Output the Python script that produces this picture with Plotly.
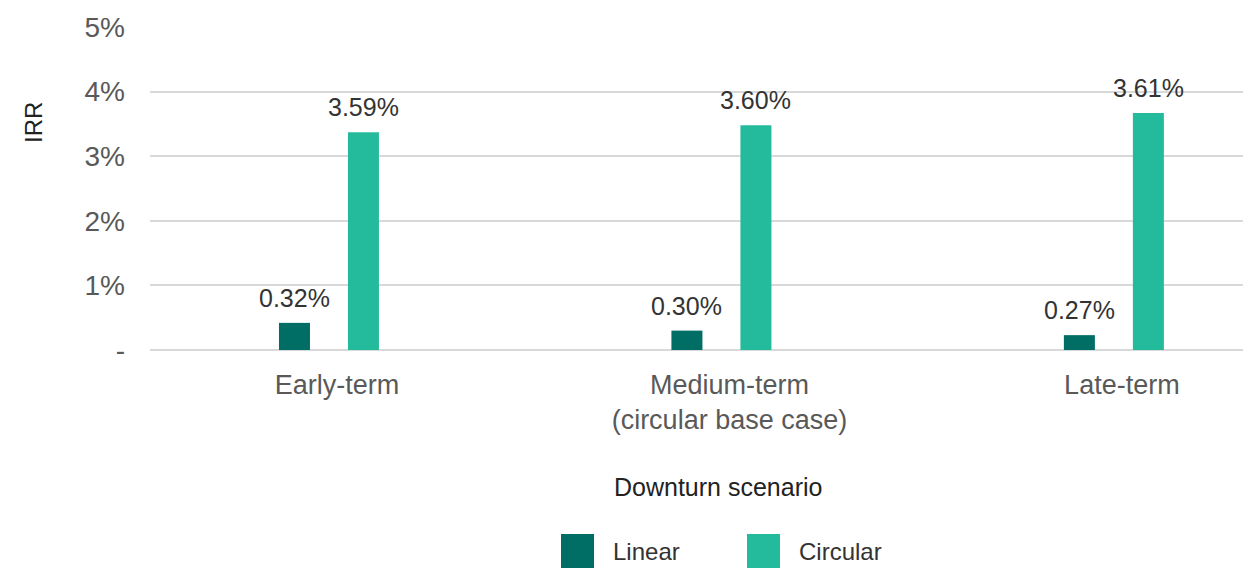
import plotly.graph_objects as go

categories = ["Early-term", "Medium-term<br>(circular base case)", "Late-term"]
linear_values = [0.42, 0.30, 0.23]
circular_values = [3.37, 3.48, 3.67]
linear_labels = ["0.32%", "0.30%", "0.27%"]
circular_labels = ["3.59%", "3.60%", "3.61%"]
tick_vals = [0, 1, 2, 3, 4, 5]
tick_text = ["-", "1%", "2%", "3%", "4%", "5%"]

LINEAR_COLOR = "#006E64"
CIRC_COLOR = "#24BB9C"
FONT = "Liberation Sans, Arial, Helvetica, sans-serif"

BAR_W = 0.079
LIN_OFF = -0.1274
CIR_OFF = 0.0484

fig = go.Figure()
fig.add_trace(go.Bar(x=categories, y=linear_values, name="Linear",
                     marker=dict(color=LINEAR_COLOR, line=dict(width=0)),
                     width=BAR_W, offset=LIN_OFF, hoverinfo="skip"))
fig.add_trace(go.Bar(x=categories, y=circular_values, name="Circular",
                     marker=dict(color=CIRC_COLOR, line=dict(width=0)),
                     width=BAR_W, offset=CIR_OFF, hoverinfo="skip"))

annotations = []
px_per_unit = 392.5
for cat, v, t in zip(categories, linear_values, linear_labels):
    annotations.append(dict(x=cat, y=v, text=t, showarrow=False, xref="x", yref="y",
                            xshift=(LIN_OFF + BAR_W / 2) * px_per_unit, yshift=25,
                            yanchor="middle", font=dict(size=25, color="#333333", family=FONT)))
for cat, v, t in zip(categories, circular_values, circular_labels):
    annotations.append(dict(x=cat, y=v, text=t, showarrow=False, xref="x", yref="y",
                            xshift=(CIR_OFF + BAR_W / 2) * px_per_unit, yshift=25,
                            yanchor="middle", font=dict(size=25, color="#333333", family=FONT)))

# axis titles (pixel positions converted below)
annotations.append(dict(x=33, y=123, xref="paper", yref="paper", text="IRR", showarrow=False,
                        textangle=-90, xanchor="center", yanchor="middle",
                        font=dict(size=24, color="#222222", family=FONT)))
annotations.append(dict(x=718, y=487, xref="paper", yref="paper", text="Downturn scenario",
                        showarrow=False, xanchor="center", yanchor="middle",
                        font=dict(size=25, color="#222222", family=FONT)))

# legend
legend_items = [("Linear", LINEAR_COLOR, 561), ("Circular", CIRC_COLOR, 747)]
shapes = []
for name, color, x0 in legend_items:
    shapes.append(dict(type="rect", xref="paper", yref="paper", x0=x0, x1=x0 + 33,
                       y0=534, y1=568, fillcolor=color, line=dict(width=0)))
    annotations.append(dict(x=x0 + 50, y=551, xref="paper", yref="paper", text=name,
                            showarrow=False, xanchor="left", yanchor="middle",
                            font=dict(size=24, color="#333333", family=FONT)))

W, H = 1243, 568
ML, MR, MT, MB = 150, 0, 27, 218
pw, ph = W - ML - MR, H - MT - MB
for a in annotations:
    if a["xref"] == "paper":
        a["x"] = (a["x"] - ML) / pw
        a["y"] = (H - MB - a["y"]) / ph
for s in shapes:
    s["x0"] = (s["x0"] - ML) / pw; s["x1"] = (s["x1"] - ML) / pw
    y0, y1 = s["y0"], s["y1"]
    s["y0"] = (H - MB - y1) / ph; s["y1"] = (H - MB - y0) / ph

fig.update_layout(
    width=W, height=H,
    margin=dict(l=ML, r=MR, t=MT, b=MB),
    barmode="overlay",
    showlegend=False,
    plot_bgcolor="white", paper_bgcolor="white",
    font=dict(family=FONT),
    annotations=annotations,
    shapes=shapes,
    xaxis=dict(range=[-0.456, 2.329], showgrid=False, zeroline=False, showline=False,
               ticks="", ticklabelstandoff=16, ticklabelshift=8,
               tickfont=dict(size=27, color="#595959", family=FONT)),
    yaxis=dict(range=[0, 5], tickvals=tick_vals, ticktext=tick_text,
               showgrid=True, gridcolor="#d9d9d9", gridwidth=1.5,
               zeroline=True, zerolinecolor="#d9d9d9", zerolinewidth=1.5,
               showline=False, ticks="", ticklabelstandoff=24,
               tickfont=dict(size=28, color="#595959", family=FONT)),
)

fig.write_html("out.html", config={"displayModeBar": False},
               post_script="document.body.style.margin='0px';document.body.style.overflow='hidden';")
